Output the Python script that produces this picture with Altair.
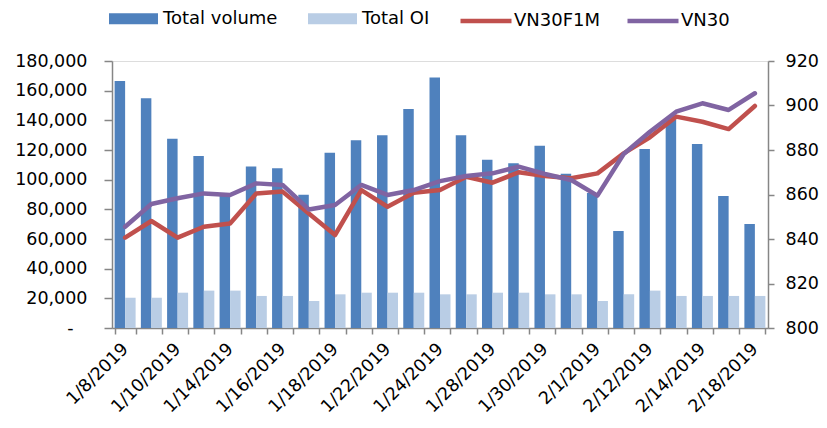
import altair as alt
import pandas as pd

dates = ["1/8/2019", "1/9/2019", "1/10/2019", "1/11/2019", "1/14/2019", "1/15/2019",
         "1/16/2019", "1/17/2019", "1/18/2019", "1/21/2019", "1/22/2019", "1/23/2019",
         "1/24/2019", "1/25/2019", "1/28/2019", "1/29/2019", "1/30/2019", "1/31/2019",
         "2/1/2019", "2/11/2019", "2/12/2019", "2/13/2019", "2/14/2019", "2/15/2019",
         "2/18/2019"]
total_volume = [166500, 154900, 127600, 116000, 90000, 108800, 107700, 89900, 118200,
                126500, 129900, 147700, 168800, 129900, 113500, 111000, 122900, 104000,
                91000, 65400, 120700, 140200, 124000, 89000, 70100]
total_oi = [20400, 20400, 23800, 25200, 25200, 21600, 21600, 18200, 22700,
            23800, 23800, 23800, 22700, 22700, 23800, 23800, 22700, 22700,
            18200, 22700, 25200, 21600, 21600, 21600, 21600]
vn30f1m = [840.6, 848.1, 840.6, 845.5, 847.0, 860.5, 861.3, 851.5, 841.8,
           862.0, 854.5, 860.8, 862.0, 868.0, 865.3, 870.0, 868.3, 867.3,
           869.5, 878.5, 885.7, 895.0, 892.7, 889.4, 899.8]
vn30 = [845.5, 855.7, 858.3, 860.5, 859.8, 865.0, 864.3, 853.3, 855.3,
        864.3, 859.8, 862.0, 866.0, 868.3, 869.5, 872.5, 869.2, 866.5,
        859.5, 878.2, 888.2, 897.2, 901.0, 898.0, 905.5]
bar_series = ["Total volume", "Total OI"]
line_series = ["VN30F1M", "VN30"]
shown_labels = dates[::2]

bars_df = pd.DataFrame(
    [{"date": d, "series": bar_series[0], "value": v} for d, v in zip(dates, total_volume)]
    + [{"date": d, "series": bar_series[1], "value": v} for d, v in zip(dates, total_oi)]
)
lines_df = pd.DataFrame(
    [{"date": d, "series": line_series[0], "value": v} for d, v in zip(dates, vn30f1m)]
    + [{"date": d, "series": line_series[1], "value": v} for d, v in zip(dates, vn30)]
)

FONT = "DejaVu Sans"
AX = "#868686"
label_list = "[" + ",".join("'" + s + "'" for s in shown_labels) + "]"

x_enc = alt.X(
    "date:N", sort=dates, title=None,
    scale=alt.Scale(paddingInner=0.2, paddingOuter=0.1),
    axis=alt.Axis(
        labelExpr=f"indexof({label_list}, datum.value) >= 0 ? datum.label : ''",
        labelAngle=-45, labelAlign="right", labelBaseline="middle",
        tickBand="extent", tickSize=6, labelPadding=12,
        labelFontSize=17.5, labelColor="black", labelFont=FONT,
        domainColor=AX, tickColor=AX, domainWidth=1.5, tickWidth=1.5,
        grid=False, labelOverlap=False, labelBound=False,
    ),
)

bars = alt.Chart(bars_df).mark_bar().encode(
    x=x_enc,
    xOffset=alt.XOffset("series:N", sort=bar_series, scale=alt.Scale(paddingInner=0, paddingOuter=0)),
    y=alt.Y(
        "value:Q", title=None,
        scale=alt.Scale(domain=[0, 180000], nice=False),
        axis=alt.Axis(
            values=list(range(0, 180001, 20000)),
            labelExpr="datum.value == 0 ? '-' : format(datum.value, ',')",
            tickSize=8,
            labelPadding={"condition": {"test": "datum.value == 0", "value": 31}, "value": 17},
            labelFontSize=17.5, labelColor="black", labelFont=FONT,
            domainColor=AX, tickColor=AX, domainWidth=1.5, tickWidth=1.5, grid=False,
        ),
    ),
    color=alt.Color(
        "series:N", sort=bar_series,
        scale=alt.Scale(domain=bar_series, range=["#4F81BD", "#B9CDE5"]),
        legend=alt.Legend(
            title=None, orient="none", legendX=-3, legendY=-67, direction="horizontal",
            symbolType="M-1,-0.224H1V0.224H-1Z", symbolSize=2401, symbolStrokeWidth=0,
            labelFontSize=18, labelFont=FONT, labelColor="black", labelOffset=5,
            columnPadding=30,
        ),
    ),
)

lines = alt.Chart(lines_df).mark_line(strokeWidth=4.5, strokeCap="round", strokeJoin="round").encode(
    x=alt.X("date:N", sort=dates),
    y=alt.Y(
        "value:Q", title=None,
        scale=alt.Scale(domain=[800, 920], nice=False),
        axis=alt.Axis(
            orient="right", values=list(range(800, 921, 20)),
            tickSize=6, labelPadding=11, labelFontSize=17.5, labelColor="black", labelFont=FONT,
            domainColor=AX, tickColor=AX, domainWidth=1.5, tickWidth=1.5, grid=False,
        ),
    ),
    stroke=alt.Stroke(
        "series:N", sort=line_series,
        scale=alt.Scale(domain=line_series, range=["#C0504D", "#8064A2"]),
        legend=alt.Legend(
            title=None, orient="none", legendX=346, legendY=-68, direction="horizontal",
            symbolType="stroke", symbolSize=2601, symbolStrokeWidth=4.5,
            labelFontSize=18, labelFont=FONT, labelColor="black", labelOffset=0,
            columnPadding=17,
        ),
    ),
    detail="series:N",
)

chart = alt.layer(bars, lines).resolve_scale(y="independent").properties(
    width=656, height=267,
    autosize=alt.AutoSizeParams(type="none"),
    padding={"left": 104, "top": 53, "right": 51, "bottom": 88},
).configure_view(stroke=None).configure(background="white")

chart.save("out.html", embed_options={"renderer": "svg", "actions": False})
